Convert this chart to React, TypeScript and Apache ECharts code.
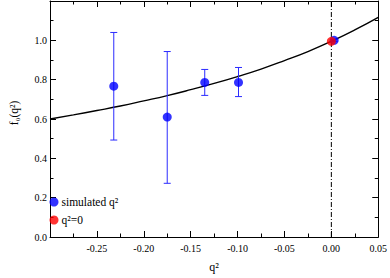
import React, { useEffect, useRef } from 'react';
import * as echarts from 'echarts';

// simulated form-factor points (q^2, f0) with error-bar ends
const pointX = [-0.232, -0.175, -0.135, -0.099, 0.003];
const pointY = [0.767, 0.61, 0.786, 0.786, 1.0];
const errLow = [0.493, 0.273, 0.72, 0.714, 0.995];
const errHigh = [1.04, 0.943, 0.852, 0.862, 1.005];

// extrapolated value at q^2 = 0
const zeroX = [0];
const zeroY = [0.995];

// fitted curve
const fitX = [-0.3, -0.275, -0.25, -0.225, -0.2, -0.175, -0.15, -0.125, -0.1, -0.075, -0.05, -0.025, 0, 0.025, 0.05];
const fitY = [0.6, 0.621, 0.643, 0.666, 0.692, 0.719, 0.749, 0.781, 0.816, 0.854, 0.897, 0.943, 0.995, 1.053, 1.117];

// vertical dash-dot line at q^2 = 0
const vlineX = [0, 0];
const vlineY = [0, 1.2];

const xMin = -0.3, xMax = 0.05, xStep = 0.05;
const yMin = 0, yMax = 1.2, yStep = 0.2;

const FONT = 'Liberation Serif';

export default function App() {
  const ref = useRef<HTMLDivElement>(null);
  useEffect(() => {
    if (!ref.current) return;
    const chart = echarts.init(ref.current, undefined, { renderer: 'svg' });
    const axisLine = { show: true, onZero: false, lineStyle: { color: '#000', width: 1 } };
    const tick = { show: true, inside: true, length: 6, lineStyle: { color: '#000', width: 1 } };
    const minor = { show: true, splitNumber: 2, length: 3.5, lineStyle: { color: '#000', width: 1 } };
    const xFmt = (v: number) => {
      if (Math.abs(v - xMin) < 1e-9) return '';
      if (Math.abs(v) < 1e-9) return '0.00';
      return v.toFixed(2);
    };
    const yFmt = (v: number) => (Math.abs(v - yMax) < 1e-9 ? '' : v.toFixed(1));
    const legendNames: Record<string, string> = {
      simulated: 'simulated q²',
      zero: 'q²=0',
    };
    chart.setOption({
      animation: false,
      backgroundColor: '#fff',
      grid: { left: 37.5, top: 1, width: 343, height: 240, containLabel: false },
      legend: {
        orient: 'vertical',
        left: 49.5,
        top: 196,
        padding: 0,
        itemWidth: 9,
        itemHeight: 9,
        itemGap: 6,
        icon: 'circle',
        data: ['simulated', 'zero'],
        formatter: (n: string) => legendNames[n],
        textStyle: { fontFamily: FONT, fontSize: 11.5, color: '#000', padding: [0, 0, 0, -2] },
      },
      xAxis: [
        {
          type: 'value', min: xMin, max: xMax, interval: xStep, position: 'bottom',
          axisLine, axisTick: tick, minorTick: minor, splitLine: { show: false },
          axisLabel: { formatter: xFmt, fontFamily: FONT, fontSize: 10, color: '#000', margin: 6 },
          name: 'q²', nameLocation: 'middle', nameGap: 24,
          nameTextStyle: { fontFamily: FONT, fontSize: 12, color: '#000' },
        },
        {
          type: 'value', min: xMin, max: xMax, interval: xStep, position: 'top',
          axisLine, axisTick: tick, minorTick: minor, splitLine: { show: false },
          axisLabel: { show: false },
        },
      ],
      yAxis: [
        {
          type: 'value', min: yMin, max: yMax, interval: yStep, position: 'left',
          axisLine, axisTick: tick, minorTick: minor, splitLine: { show: false },
          axisLabel: { formatter: yFmt, fontFamily: FONT, fontSize: 10, color: '#000', margin: 3 },
          name: 'f₀(q²)', nameLocation: 'middle', nameGap: 30, nameRotate: 90,
          nameTextStyle: { fontFamily: FONT, fontSize: 11.5, color: '#000', padding: [0, 0, 0, 12] },
        },
        {
          type: 'value', min: yMin, max: yMax, interval: yStep, position: 'right',
          axisLine, axisTick: tick, minorTick: minor, splitLine: { show: false },
          axisLabel: { show: false },
        },
      ],
      series: [
        {
          name: 'fit', type: 'line', showSymbol: false, symbol: 'none', smooth: true,
          data: fitX.map((x, i) => [x, fitY[i]]),
          lineStyle: { color: '#000', width: 1.4 }, z: 2,
        },
        {
          name: 'vline', type: 'line', showSymbol: false, symbol: 'none',
          data: vlineX.map((x, i) => [x, vlineY[i]]),
          lineStyle: { color: '#000', width: 1, type: [5, 2, 1, 2] }, z: 2,
        },
        {
          name: 'err', type: 'custom', z: 3,
          data: pointX.map((x, i) => [x, pointY[i], errLow[i], errHigh[i]]),
          renderItem: (_p: any, api: any) => {
            const x = api.value(0);
            const lo = api.coord([x, api.value(2)]);
            const hi = api.coord([x, api.value(3)]);
            const w = 3.5;
            const style = { stroke: '#2b2bff', lineWidth: 1 };
            return {
              type: 'group',
              children: [
                { type: 'line', shape: { x1: lo[0], y1: lo[1], x2: hi[0], y2: hi[1] }, style },
                { type: 'line', shape: { x1: lo[0] - w, y1: lo[1], x2: lo[0] + w, y2: lo[1] }, style },
                { type: 'line', shape: { x1: hi[0] - w, y1: hi[1], x2: hi[0] + w, y2: hi[1] }, style },
              ],
            };
          },
        },
        {
          name: 'simulated', type: 'scatter', symbol: 'circle', symbolSize: 9, z: 4,
          itemStyle: { color: '#0000ff' },
          data: pointX.map((x, i) => [x, pointY[i]]),
        },
        {
          name: 'zero', type: 'scatter', symbol: 'circle', symbolSize: 9, z: 5,
          itemStyle: { color: '#ff0000' },
          data: zeroX.map((x, i) => [x, zeroY[i]]),
        },
      ],
    });
    return () => chart.dispose();
  }, []);
  return <div ref={ref} style={{ position: 'fixed', left: 0, top: 0, width: 390, height: 278, background: '#fff' }} />;
}
